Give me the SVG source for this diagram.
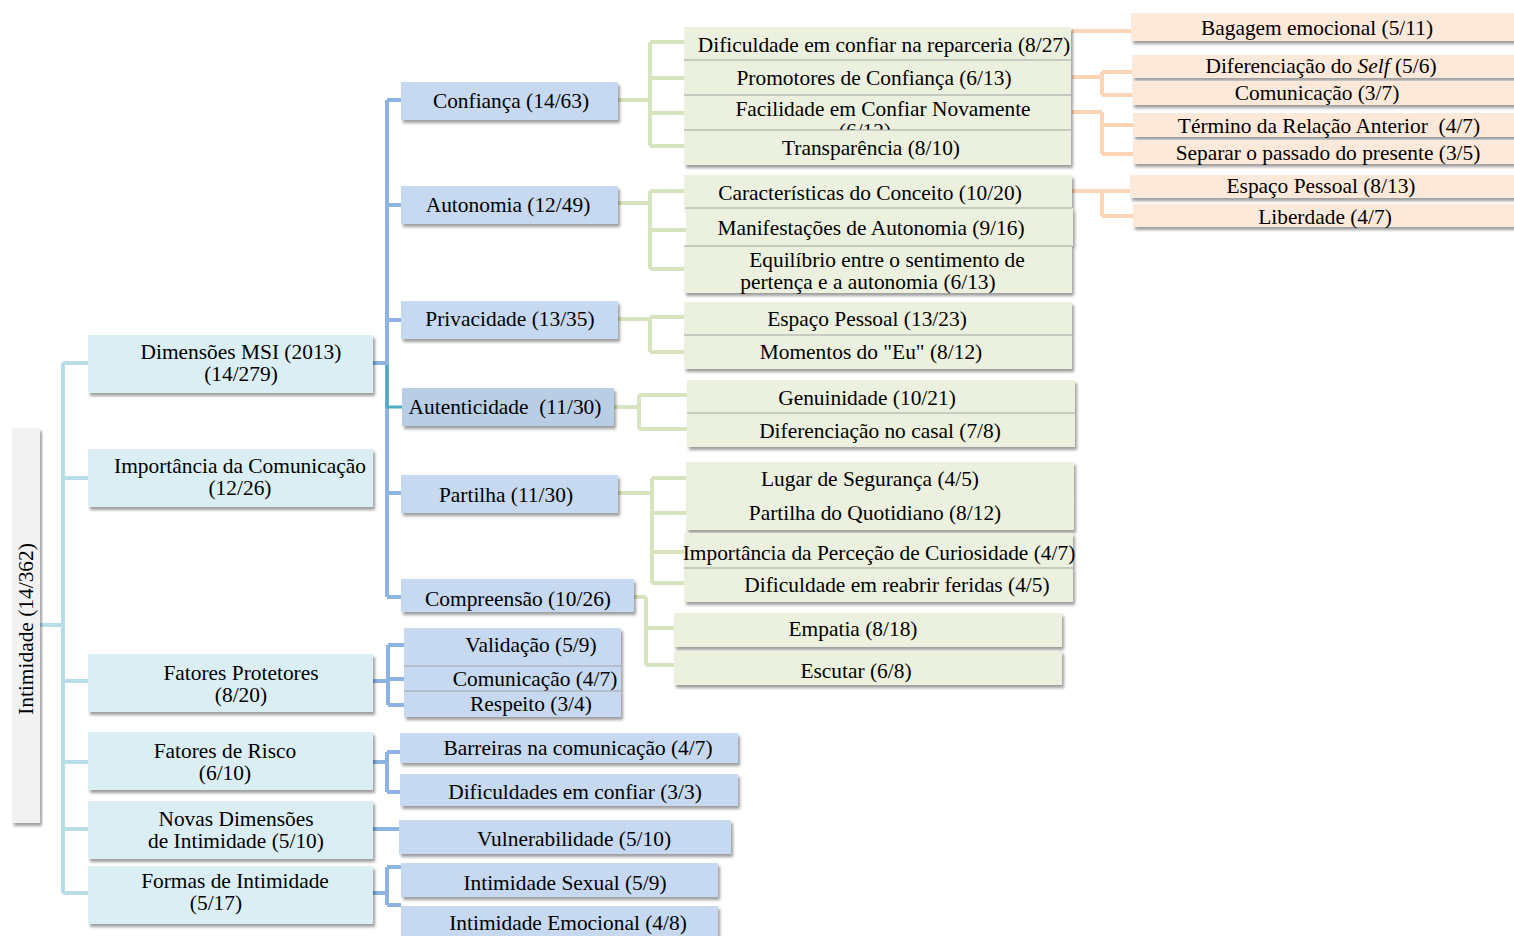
<svg xmlns="http://www.w3.org/2000/svg" width="1514" height="936" viewBox="0 0 1514 936">
<defs>
<filter id="sh" x="-5%" y="-20%" width="115%" height="160%">
<feDropShadow dx="2" dy="3" stdDeviation="1.6" flood-color="#000" flood-opacity="0.38"/>
</filter>
<style>
text{font-family:"Liberation Serif","Times New Roman",serif;font-size:21.4px;fill:#000;text-anchor:middle}
.root{fill:#f2f2f2;filter:url(#sh)}
.l1{fill:#dbeef4;filter:url(#sh)}
.l2{fill:#c6d9f1;filter:url(#sh)}
.l2d{fill:#b9cde5;filter:url(#sh)}
.g{fill:#ebf1de;filter:url(#sh)}
.o{fill:#fde9d9;filter:url(#sh)}
.sep{stroke:#a3a3a3;stroke-width:1.2}
.c1{fill:none;stroke:#b7dee8;stroke-width:4}
.c2{fill:none;stroke:#8db3e2;stroke-width:4}
.ct{fill:none;stroke:#4bacc6;stroke-width:3}
.cg{fill:none;stroke:#d7e4bd;stroke-width:4}
.co{fill:none;stroke:#fbd5b5;stroke-width:4}
</style>
</defs>
<rect width="1514" height="936" fill="#fff"/>

<g id="connectors">
<path class="c1" d="M40 625H63M63 363V893M63 363H88M63 478H88M63 681H88M63 762H88M63 829H88M63 893H88"/>
<path class="c2" d="M373 363H387M387 100V597M387 100H401M387 205H401M387 320H401M387 493H401M387 597H401"/>
<path class="ct" d="M387 365V407H402"/>
<path class="c2" d="M373 681H388M388 645V705M388 645H404M388 679H404M388 705H404"/>
<path class="c2" d="M373 762H387M387 752V792M387 752H400M387 792H400"/>
<path class="c2" d="M373 829H399"/>
<path class="c2" d="M373 893H387M387 867V905M387 867H401M387 905H401"/>
<path class="cg" d="M618 100H650M650 42V146M650 42H684M650 78H684M650 113H684M650 146H684"/>
<path class="cg" d="M618 203H650M650 191V269M650 191H684M650 230H686M650 269H684"/>
<path class="cg" d="M618 319H650M650 317V352M650 317H684M650 352H684"/>
<path class="cg" d="M614 407H639M639 395V429M639 395H687M639 429H687"/>
<path class="cg" d="M618 493H652M652 478V583M652 478H686M652 513H686M652 552H684M652 583H684"/>
<path class="cg" d="M634 597H646M646 597V665M646 628H674M646 665H674"/>
<path class="co" d="M1072 31H1131"/>
<path class="co" d="M1072 77H1102M1102 72V95M1102 72H1132M1102 95H1132"/>
<path class="co" d="M1072 112H1102M1102 112V154M1102 125H1133M1102 154H1133"/>
<path class="co" d="M1072 191H1102M1102 191V216M1102 191H1130M1102 216H1133"/>
</g>

<g id="root">
<rect class="root" x="12" y="428" width="28" height="395"/>
<text transform="translate(33,629) rotate(-90)">Intimidade (14/362)</text>
</g>

<g id="dimensoes">
<rect class="l1" x="88" y="335" width="285" height="58"/>
<text x="241" y="359">Dimensões MSI (2013)</text>
<text x="241" y="381">(14/279)</text>
</g>
<g id="importancia">
<rect class="l1" x="88" y="449" width="285" height="58"/>
<text x="240" y="473">Importância da Comunicação</text>
<text x="240" y="495">(12/26)</text>
</g>
<g id="protetores">
<rect class="l1" x="88" y="654" width="285" height="58"/>
<text x="241" y="680">Fatores Protetores</text>
<text x="241" y="702">(8/20)</text>
</g>
<g id="risco">
<rect class="l1" x="88" y="732" width="285" height="58"/>
<text x="225" y="758">Fatores de Risco</text>
<text x="225" y="780">(6/10)</text>
</g>
<g id="novas">
<rect class="l1" x="88" y="801" width="285" height="58"/>
<text x="236" y="826">Novas Dimensões</text>
<text x="236" y="848">de Intimidade (5/10)</text>
</g>
<g id="formas">
<rect class="l1" x="88" y="866" width="285" height="58"/>
<text x="235" y="888">Formas de Intimidade</text>
<text x="216" y="910">(5/17)</text>
</g>

<g id="confianca"><rect class="l2" x="401" y="82" width="217" height="38"/><text x="511" y="108">Confiança (14/63)</text></g>
<g id="autonomia"><rect class="l2" x="401" y="186" width="217" height="38"/><text x="508" y="212">Autonomia (12/49)</text></g>
<g id="privacidade"><rect class="l2" x="401" y="301" width="217" height="38"/><text x="510" y="326">Privacidade (13/35)</text></g>
<g id="autenticidade"><rect class="l2d" x="402" y="388" width="212" height="38"/><text x="505" y="414" xml:space="preserve">Autenticidade  (11/30)</text></g>
<g id="partilha"><rect class="l2" x="401" y="475" width="217" height="38"/><text x="506" y="502">Partilha (11/30)</text></g>
<g id="compreensao"><rect class="l2" x="401" y="579" width="233" height="33"/><text x="518" y="606">Compreensão (10/26)</text></g>

<g id="validacao"><rect class="l2" x="404" y="628" width="217" height="38"/><text x="531" y="652">Validação (5/9)</text></g>
<g id="comunicacao-p"><rect class="l2" x="404" y="666" width="217" height="25"/><line class="sep" x1="404" y1="666" x2="621" y2="666"/><text x="535" y="686">Comunicação (4/7)</text></g>
<g id="respeito"><rect class="l2" x="404" y="691" width="217" height="26"/><line class="sep" x1="404" y1="691" x2="621" y2="691"/><text x="531" y="711">Respeito (3/4)</text></g>
<g id="barreiras"><rect class="l2" x="400" y="733" width="338" height="30"/><text x="578" y="755">Barreiras na comunicação (4/7)</text></g>
<g id="dificuldades"><rect class="l2" x="400" y="774" width="338" height="32"/><text x="575" y="799">Dificuldades em confiar (3/3)</text></g>
<g id="vulnerabilidade"><rect class="l2" x="399" y="820" width="332" height="34"/><text x="574" y="846">Vulnerabilidade (5/10)</text></g>
<g id="sexual"><rect class="l2" x="401" y="863" width="317" height="34"/><text x="565" y="890">Intimidade Sexual (5/9)</text></g>
<g id="emocional"><rect class="l2" x="401" y="906" width="317" height="36"/><text x="568" y="930">Intimidade Emocional (4/8)</text></g>

<g id="reparceria"><rect class="g" x="684" y="27" width="387" height="33"/><text x="884" y="52">Dificuldade em confiar na reparceria (8/27)</text></g>
<g id="promotores"><rect class="g" x="684" y="60" width="387" height="35"/><line class="sep" x1="684" y1="60" x2="1071" y2="60"/><text x="874" y="85">Promotores de Confiança (6/13)</text></g>
<g id="facilidade"><rect class="g" x="684" y="95" width="387" height="35"/><line class="sep" x1="684" y1="95" x2="1071" y2="95"/><text x="883" y="116">Facilidade em Confiar Novamente</text><text x="865" y="138">(6/12)</text></g>
<g id="transparencia"><rect class="g" x="684" y="130" width="387" height="35"/><line class="sep" x1="684" y1="130" x2="1071" y2="130"/><text x="871" y="155">Transparência (8/10)</text></g>

<g id="caracteristicas"><rect class="g" x="684" y="175" width="388" height="33"/><text x="870" y="200">Características do Conceito (10/20)</text></g>
<g id="manifestacoes"><rect class="g" x="686" y="208" width="387" height="38"/><line class="sep" x1="686" y1="208" x2="1072" y2="208"/><text x="871" y="235">Manifestações de Autonomia (9/16)</text></g>
<g id="equilibrio"><rect class="g" x="684" y="246" width="388" height="47"/><line class="sep" x1="684" y1="246" x2="1072" y2="246"/><text x="887" y="267">Equilíbrio entre o sentimento de</text><text x="868" y="289">pertença e a autonomia (6/13)</text></g>

<g id="espaco"><rect class="g" x="684" y="302" width="388" height="33"/><text x="867" y="326">Espaço Pessoal (13/23)</text></g>
<g id="momentos"><rect class="g" x="684" y="335" width="388" height="34"/><line class="sep" x1="684" y1="335" x2="1072" y2="335"/><text x="871" y="359">Momentos do "Eu" (8/12)</text></g>

<g id="genuinidade"><rect class="g" x="687" y="380" width="388" height="33"/><text x="867" y="405">Genuinidade (10/21)</text></g>
<g id="diferenciacao-casal"><rect class="g" x="687" y="413" width="388" height="34"/><line class="sep" x1="687" y1="413" x2="1075" y2="413"/><text x="880" y="438">Diferenciação no casal (7/8)</text></g>

<g id="lugar"><rect class="g" x="686" y="462" width="388" height="33"/><text x="870" y="486">Lugar de Segurança (4/5)</text></g>
<g id="quotidiano"><rect class="g" x="686" y="495" width="388" height="35"/><text x="875" y="520">Partilha do Quotidiano (8/12)</text></g>
<g id="curiosidade"><rect class="g" x="684" y="533" width="389" height="35"/><text x="879" y="560">Importância da Perceção de Curiosidade (4/7)</text></g>
<g id="feridas"><rect class="g" x="684" y="568" width="389" height="34"/><line class="sep" x1="684" y1="568" x2="1073" y2="568"/><text x="897" y="592">Dificuldade em reabrir feridas (4/5)</text></g>

<g id="empatia"><rect class="g" x="674" y="613" width="388" height="34"/><text x="853" y="636">Empatia (8/18)</text></g>
<g id="escutar"><rect class="g" x="674" y="651" width="388" height="34"/><text x="856" y="678">Escutar (6/8)</text></g>

<g id="bagagem"><rect class="o" x="1131" y="13" width="390" height="28"/><text x="1317" y="35">Bagagem emocional (5/11)</text></g>
<g id="self"><rect class="o" x="1132" y="55" width="390" height="23"/><text x="1321" y="73">Diferenciação do <tspan font-style="italic">Self</tspan> (5/6)</text></g>
<g id="comunicacao-o"><rect class="o" x="1132" y="81" width="390" height="24"/><text x="1317" y="100">Comunicação (3/7)</text></g>
<g id="termino"><rect class="o" x="1133" y="113" width="390" height="24"/><text x="1329" y="133" xml:space="preserve">Término da Relação Anterior  (4/7)</text></g>
<g id="separar"><rect class="o" x="1133" y="140" width="390" height="24"/><text x="1328" y="160">Separar o passado do presente (3/5)</text></g>
<g id="espaco-o"><rect class="o" x="1130" y="175" width="390" height="23"/><text x="1321" y="193">Espaço Pessoal (8/13)</text></g>
<g id="liberdade"><rect class="o" x="1133" y="204" width="390" height="23"/><text x="1325" y="224">Liberdade (4/7)</text></g>
</svg>
